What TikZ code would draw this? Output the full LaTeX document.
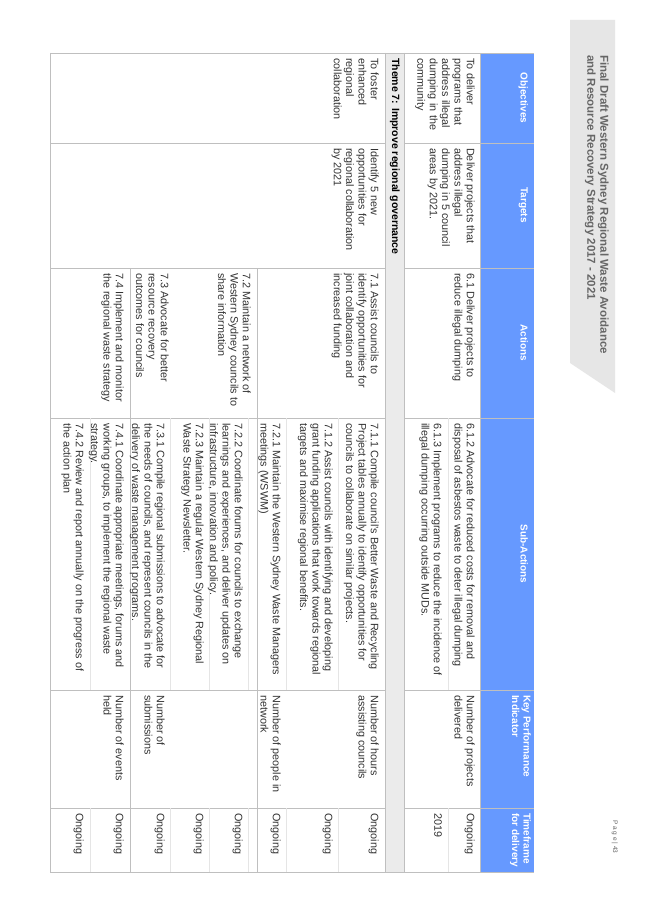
\documentclass[tikz,border=0pt]{standalone}
\usepackage{fontspec}
\setmainfont{Liberation Sans}
\usetikzlibrary{positioning}
\definecolor{headblue}{HTML}{6699FF}
\definecolor{tabgrey}{HTML}{E6E6E6}
\definecolor{rulegrey}{HTML}{BFBFBF}
\tikzset{
  cell/.style={anchor=north west, inner sep=0pt, align=left, font=\fontsize{10.8}{12.4}\selectfont, text=black!80},
  headcell/.style={anchor=north, inner sep=0pt, align=left, text=white, font=\fontsize{10}{11.5}\selectfont\bfseries},
  rule/.style={draw=rulegrey, line width=0.7pt}
}
\begin{document}
\begin{tikzpicture}[x=1pt, y=1pt]
  \useasboundingbox (0,0) rectangle (653,-923);
  \fill[white] (0,0) rectangle (653,-923);
  \begin{scope}[rotate=-90, transform shape]
    % title tab
    \fill[tabgrey] (20,570) -- (20,615) -- (393,615) -- (363,570) -- cycle;
    \node[cell, text=black!60, font=\fontsize{11.5}{13}\selectfont\bfseries] (title) at (55,609)
      {Final Draft Western Sydney Regional Waste Avoidance\\and Resource Recovery Strategy 2017 - 2021};
    \node[cell, text=black!60, font=\fontsize{6.5}{8}\selectfont] (page) at (820,618) {P a g e | 43};
    % header
    \fill[headblue] (53,480) rectangle (872,534);
    \fill[black!8] (53,385) rectangle (872,404);
    \foreach \h in {143,268,418,690,808}
      \draw[rule] (\h,480) -- (\h,534);
    \draw[rule] (53,480) -- (872,480);
    % body rules
    \draw[rule] (53,404) -- (872,404);
    \draw[rule] (53,385) -- (872,385);
    \draw[rule] (53,50) -- (53,534) (872,50) -- (872,534);
    \draw[rule] (53,50) -- (872,50);
    \foreach \h in {143,268,418,690,808} {
      \draw[rule] (\h,404) -- (\h,480);
      \draw[rule] (\h,50) -- (\h,385);
    }
    \draw[rule] (268,257) -- (872,257);
    \draw[rule] (268,130) -- (872,130);
    \draw[rule, draw=black!10] (418,448) -- (690,448) (808,448) -- (872,448);
    \foreach \w in {338,286,248,209,170,90}
      \draw[rule, draw=black!10] (418,\w) -- (690,\w) (808,\w) -- (872,\w);
    % header texts
    \node[headcell] (hobj) at (98,528) {Objectives};
    \node[headcell] (htar) at (205,528) {Targets};
    \node[headcell] (hact) at (343,528) {Actions};
    \node[headcell] (hsub) at (554,528) {Sub-Actions};
    \node[headcell, anchor=north west] (hkpi) at (695,531) {Key Performance\\Indicator};
    \node[headcell, anchor=north west] (htime) at (813,531) {Timeframe\\for delivery};
    % theme 6 row
    \node[cell, text width=80] (obj6) at (58,475) {To deliver\\programs that\\address illegal\\dumping in the\\community};
    \node[cell] (tar6) at (148,475) {Deliver projects that\\address illegal\\dumping in 5 council\\areas by 2021.};
    \node[cell] (act6) at (273,475) {6.1 Deliver projects to\\reduce illegal dumping};
    \node[cell] (sub612) at (423,475) {6.1.2 Advocate for reduced costs for removal and\\disposal of asbestos waste to deter illegal dumping};
    \node[cell] (sub613) at (423,442) {6.1.3 Implement programs to reduce the incidence of\\illegal dumping occurring outside MUDs.};
    \node[cell] (kpi6) at (695,475) {Number of projects\\delivered};
    \node[cell] (time612) at (813,475) {Ongoing};
    \node[cell] (time613) at (813,442) {2019};
    % theme 7
    \node[cell, text=black, font=\fontsize{10.5}{12}\selectfont\bfseries] (theme7) at (58,400) {Theme 7: Improve regional governance};
    \node[cell] (obj7) at (58,379) {To foster\\enhanced\\regional\\collaboration};
    \node[cell] (tar7) at (148,379) {Identify 5 new\\opportunities for\\regional collaboration\\by 2021};
    \node[cell] (act71) at (273,379) {7.1 Assist councils to\\identify opportunities for\\joint collaboration and\\increased funding};
    \node[cell] (act72) at (273,251) {7.2 Maintain a network of\\Western Sydney councils to\\share information};
    \node[cell] (act73) at (273,169) {7.3 Advocate for better\\resource recovery\\outcomes for councils};
    \node[cell] (act74) at (273,124) {7.4 Implement and monitor\\the regional waste strategy};
    \node[cell] (sub711) at (423,379) {7.1.1 Compile council's Better Waste and Recycling\\Project tables annually to identify opportunities for\\councils to collaborate on similar projects.};
    \node[cell] (sub712) at (423,333) {7.1.2 Assist councils with identifying and developing\\grant funding applications that work towards regional\\targets and maximise regional benefits.};
    \node[cell] (sub721) at (423,281) {7.2.1 Maintain the Western Sydney Waste Managers\\meetings (WSWM)};
    \node[cell] (sub722) at (423,243) {7.2.2 Coordinate forums for councils to exchange\\learnings and experiences, and deliver updates on\\infrastructure, innovation and policy.};
    \node[cell] (sub723) at (423,204) {7.2.3 Maintain a regular Western Sydney Regional\\Waste Strategy Newsletter.};
    \node[cell] (sub731) at (423,165) {7.3.1 Compile regional submissions to advocate for\\the needs of councils, and represent councils in the\\delivery of waste management programs.};
    \node[cell] (sub741) at (423,124) {7.4.1 Coordinate appropriate meetings, forums and\\working groups, to implement the regional waste\\strategy.};
    \node[cell] (sub742) at (423,84) {7.4.2 Review and report annually on the progress of\\the action plan};
    \node[cell] (kpi71) at (695,379) {Number of hours\\assisting councils};
    \node[cell] (kpi72) at (695,281) {Number of people in\\network};
    \node[cell] (kpi73) at (695,165) {Number of\\submissions};
    \node[cell] (kpi74) at (695,124) {Number of events\\held};
    \foreach \w/\n in {379/a,333/b,281/c,243/d,204/e,165/f,124/g,84/h}
      \node[cell] (time\n) at (813,\w) {Ongoing};
  \end{scope}
\end{tikzpicture}
\end{document}
